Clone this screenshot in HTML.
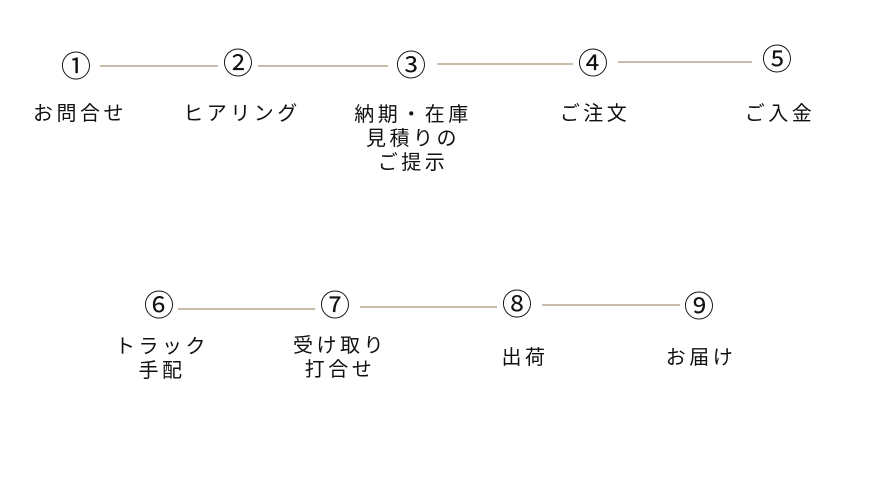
<!DOCTYPE html>
<html><head><meta charset="utf-8"><style>
body{margin:0;width:880px;height:500px;background:#fff;position:relative;overflow:hidden;font-family:"Liberation Sans","Noto Sans CJK JP",sans-serif;color:#111}
.n{position:absolute;transform:translate(-50%,-50%);font-size:30px;line-height:1;white-space:nowrap}
.t{position:absolute;transform:translate(-50%,-50%);font-size:20px;letter-spacing:3.5px;line-height:24px;text-align:center;white-space:nowrap}
.l{position:absolute;height:2px;background:#c9bba9}
</style></head><body>
<div class="l" style="left:100px;width:118px;top:65px"></div>
<div class="l" style="left:258px;width:130px;top:65px"></div>
<div class="l" style="left:437px;width:136px;top:63px"></div>
<div class="l" style="left:618px;width:134px;top:61px"></div>
<div class="l" style="left:178px;width:137px;top:308px"></div>
<div class="l" style="left:360px;width:137px;top:306px"></div>
<div class="l" style="left:542px;width:138px;top:304px"></div>

<div class="n" style="left:76px;top:68px">①</div>
<div class="n" style="left:238px;top:65px">②</div>
<div class="n" style="left:411px;top:67px">③</div>
<div class="n" style="left:593px;top:65px">④</div>
<div class="n" style="left:777px;top:61px">⑤</div>
<div class="n" style="left:159px;top:307px">⑥</div>
<div class="n" style="left:335px;top:307px">⑦</div>
<div class="n" style="left:517px;top:306px">⑧</div>
<div class="n" style="left:699px;top:308px">⑨</div>

<div class="t" style="left:80px;top:114px">お問合せ</div>
<div class="t" style="left:242px;top:114px">ヒアリング</div>
<div class="t" style="left:413px;top:139px">納期・在庫<br>見積りの<br>ご提示</div>
<div class="t" style="left:595px;top:114px">ご注文</div>
<div class="t" style="left:780px;top:114px">ご入金</div>
<div class="t" style="left:162px;top:359px">トラック<br>手配</div>
<div class="t" style="left:340px;top:358px">受け取り<br>打合せ</div>
<div class="t" style="left:525px;top:358px">出荷</div>
<div class="t" style="left:701px;top:358px">お届け</div>
</body></html>
